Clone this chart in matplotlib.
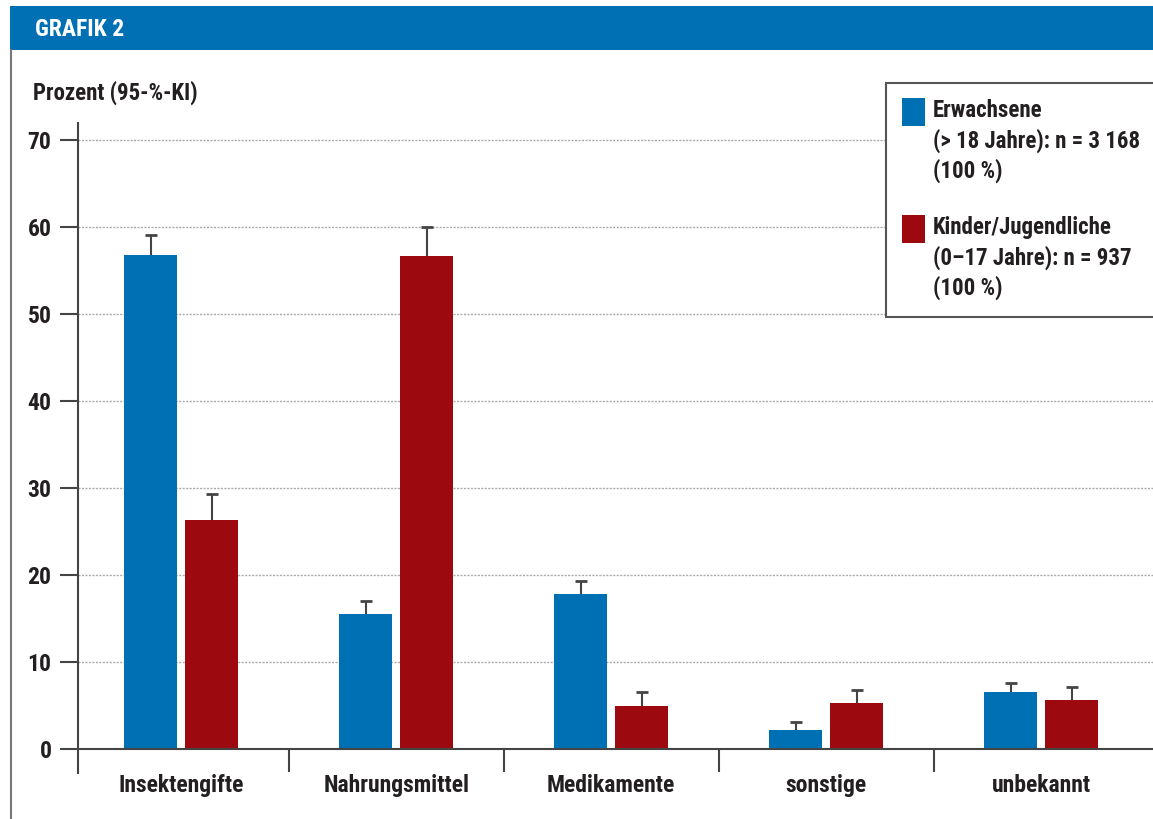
import numpy as np
import matplotlib
matplotlib.use("Agg")
import matplotlib.pyplot as plt
from matplotlib.patches import Rectangle

# Data
categories = ["Insektengifte", "Nahrungsmittel", "Medikamente", "sonstige", "unbekannt"]
adults = [56.8, 15.5, 17.8, 2.2, 6.6]
adults_upper = [59.1, 17.0, 19.3, 3.1, 7.6]
children = [26.3, 56.7, 4.9, 5.3, 5.6]
children_upper = [29.3, 60.0, 6.6, 6.8, 7.1]
legend_labels = ["Erwachsene\n(> 18 Jahre): n = 3 168\n(100 %)",
                 "Kinder/Jugendliche\n(0–17 Jahre): n = 937\n(100 %)"]
yticks = [0, 10, 20, 30, 40, 50, 60, 70]
title = "GRAFIK 2"
ylabel = "Prozent (95-%-KI)"

blue = "#0070b4"
red = "#9c0a10"
ink = "#231f20"

plt.rcParams["font.family"] = ["Roboto Condensed", "DejaVu Sans"]
plt.rcParams["font.weight"] = "bold"

W, H = 1153, 819
fig = plt.figure(figsize=(W / 100, H / 100), dpi=100)


def px(x, y):
    return x / W, 1 - y / H


# header bar and frame line
fig.patches.append(Rectangle(px(10, 50), (W - 10) / W, 44 / H, transform=fig.transFigure,
                             facecolor=blue, edgecolor="none"))
fig.add_artist(plt.Line2D([11 / W, 11 / W], [0, 1 - 50 / H], transform=fig.transFigure,
                          color="#777777", lw=1.5))
fig.text(*px(35, 29), title, color="white", fontsize=17, fontweight="bold", va="center")
fig.text(*px(33, 93), ylabel, color=ink, fontsize=16.5, fontweight="bold", va="center")

# axes
ax_l, ax_top, ax_bot = 78, 122.6, 772.5
ax = fig.add_axes([ax_l / W, 1 - ax_bot / H, (W - ax_l) / W, (ax_bot - ax_top) / H])
ax.set_ylim(-2.7, 72)
ax.set_xlim(-0.48, 4.52)
for s in ["top", "right", "bottom"]:
    ax.spines[s].set_visible(False)
ax.spines["left"].set_color("#444444")
ax.spines["left"].set_linewidth(1.5)

x = np.arange(len(categories))
w = 0.247
off = 0.142
ax.bar(x - off, adults, w, color=blue, zorder=3)
ax.bar(x + off, children, w, color=red, zorder=3)
for xs, lo, hi in [(x - off, adults, adults_upper), (x + off, children, children_upper)]:
    ax.vlines(xs, lo, hi, color="#444444", lw=1.5, zorder=4)
    ax.plot(xs, hi, ls="none", marker="_", ms=8, mew=2, color="#444444", zorder=4)

for t in yticks[1:]:
    ax.axhline(t, color="#aaaaaa", lw=1, ls=(0, (1.5, 1)), zorder=1)
ax.axhline(0, color="#444444", lw=1.5, zorder=4)
ax.vlines(x[:-1] + 0.5, -2.6, 0, color="#444444", lw=1.5)

ax.set_yticks(yticks)
ax.tick_params(axis="y", length=13, width=1.5, color="#444444", pad=6,
               labelsize=17, labelcolor=ink)
ax.set_xticks(x)
ax.set_xticklabels(categories, fontsize=17, fontweight="bold", color=ink)
ax.tick_params(axis="x", length=0, pad=1)
for lab in ax.get_yticklabels():
    lab.set_fontweight("bold")

# legend box drawn by hand
fig.patches.append(Rectangle(px(886, 317), (W + 20 - 886) / W, (317 - 83) / H,
                             transform=fig.transFigure, facecolor="white",
                             edgecolor="#555555", lw=1.5, zorder=5))
for i, (lab, col) in enumerate(zip(legend_labels, [blue, red])):
    y0 = 98 + i * 117
    fig.patches.append(Rectangle(px(902, y0 + 28), 23 / W, 28 / H, transform=fig.transFigure,
                                 facecolor=col, edgecolor="none", zorder=6))
    fig.text(*px(933, y0 + 1), lab, color=ink, fontsize=16.5, fontweight="bold",
             va="top", linespacing=1.33, zorder=7)

fig.savefig("out.png", dpi=100)
